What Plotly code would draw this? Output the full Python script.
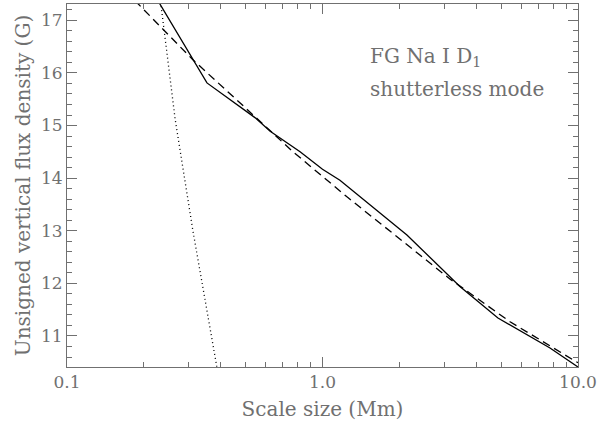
import plotly.graph_objects as go

# solid: measured curve
solid_x = [0.2, 0.353, 0.544, 0.624, 0.817, 1.0, 1.17, 2.14, 3.45, 4.86, 7.77, 10.0]
solid_y = [17.82, 15.81, 15.15, 14.89, 14.50, 14.17, 13.96, 12.92, 11.94, 11.34, 10.77, 10.41]

# dashed: fit
dash_x = [0.17, 0.19, 0.311, 0.506, 0.767, 1.25, 3.16, 5.42, 9.15, 10.0]
dash_y = [17.55, 17.31, 16.25, 15.31, 14.50, 13.64, 12.08, 11.27, 10.60, 10.49]

# dotted: steep component
dot_x = [0.225, 0.233, 0.265, 0.311, 0.386]
dot_y = [17.95, 17.31, 15.12, 13.0, 10.41]

x_ticks = [0.1, 1.0, 10.0]
x_ticktext = ['0.1', '1.0', '10.0']
x_minor = [0.2, 0.3, 0.4, 0.5, 0.6, 0.7, 0.8, 0.9, 2, 3, 4, 5, 6, 7, 8, 9]

GREY = '#707070'
FONT = 'DejaVu Serif'

fig = go.Figure()
fig.add_trace(go.Scatter(x=solid_x, y=solid_y, mode='lines',
                         line=dict(color='black', width=1.3)))
fig.add_trace(go.Scatter(x=dash_x, y=dash_y, mode='lines',
                         line=dict(color='black', width=1.3, dash='8px,5px')))
fig.add_trace(go.Scatter(x=dot_x, y=dot_y, mode='lines',
                         line=dict(color='black', width=1.3, dash='1px,3px')))

fig.add_annotation(x=0.589, y=0.854, xref='paper', yref='paper',
                   xanchor='left', yanchor='middle',
                   showarrow=False, align='left',
                   text='FG Na I D<sub>1</sub>',
                   font=dict(family=FONT, size=20, color=GREY))
fig.add_annotation(x=0.589, y=0.766, xref='paper', yref='paper',
                   xanchor='left', yanchor='middle',
                   showarrow=False, align='left',
                   text='shutterless mode',
                   font=dict(family=FONT, size=20, color=GREY))

fig.update_layout(
    width=600, height=426,
    margin=dict(l=67, r=22, t=4, b=59),
    paper_bgcolor='white', plot_bgcolor='white',
    showlegend=False,
    font=dict(family=FONT, size=17, color=GREY),
)
fig.update_xaxes(
    type='log', range=[-1, 1],
    tickvals=x_ticks, ticktext=x_ticktext,
    ticks='inside', ticklen=10, tickcolor=GREY,
    minor=dict(tickvals=x_minor, ticks='inside', ticklen=5, tickcolor=GREY),
    showline=True, linecolor=GREY, mirror='ticks', showgrid=False, zeroline=False,
    title=dict(text='Scale size (Mm)', standoff=10, font=dict(size=20)),
)
fig.update_yaxes(
    range=[10.41, 17.31], dtick=1,
    ticks='inside', ticklen=10, tickcolor=GREY,
    minor=dict(dtick=0.2, ticks='inside', ticklen=5, tickcolor=GREY),
    showline=True, linecolor=GREY, mirror='ticks', showgrid=False, zeroline=False,
    title=dict(text='Unsigned vertical flux density (G)', standoff=4, font=dict(size=20)),
)

# page body has a default margin; drop it so the figure sits at the window corner
fig.write_html('out.html', config={'displayModeBar': False},
               post_script="document.body.style.margin='0';")
